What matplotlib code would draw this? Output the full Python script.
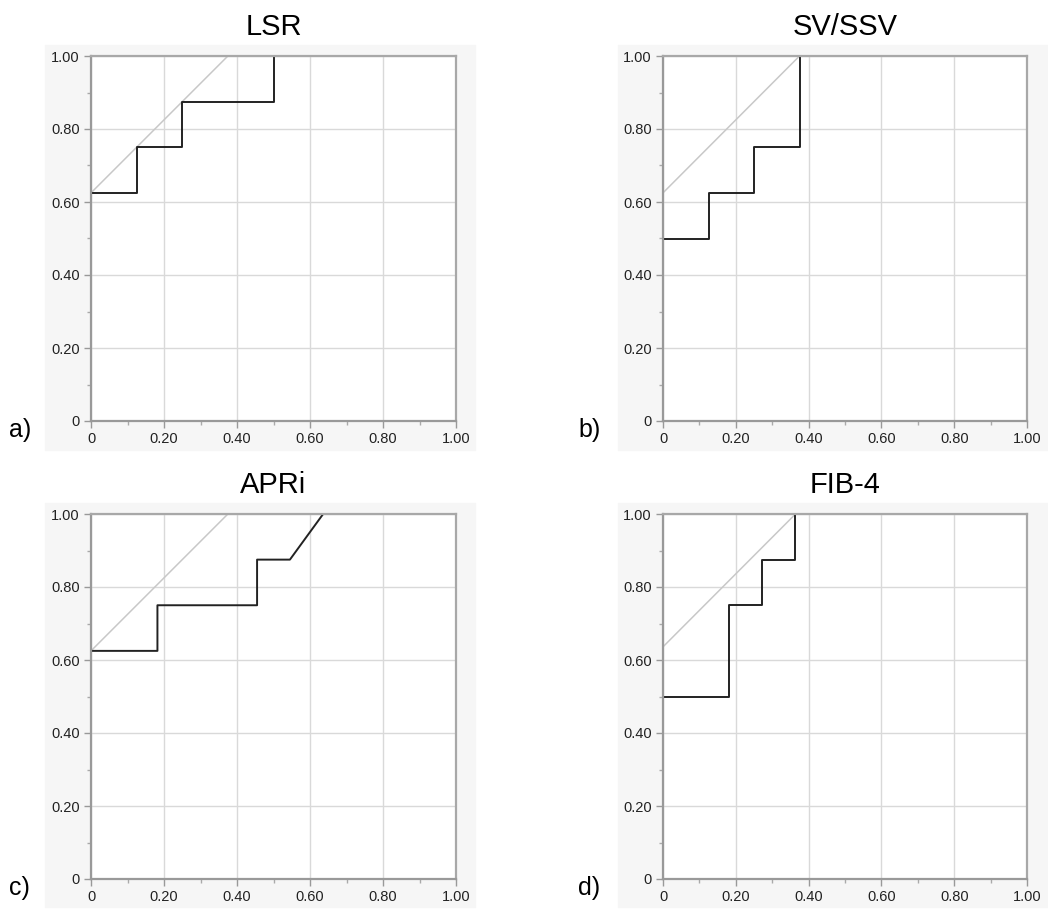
import matplotlib
matplotlib.use("Agg")
import matplotlib.pyplot as plt
from matplotlib.patches import Rectangle
from matplotlib.ticker import MultipleLocator

plt.rcParams["font.family"] = ["Liberation Sans", "DejaVu Sans"]

titles = ["LSR", "SV/SSV", "APRi", "FIB-4"]
letters = ["a)", "b)", "c)", "d)"]

# ROC curves (1 - specificity, sensitivity)
lsr_x = [0, 0, 0.125, 0.125, 0.25, 0.25, 0.5, 0.5, 1.0]
lsr_y = [0, 0.625, 0.625, 0.75, 0.75, 0.875, 0.875, 1.0, 1.0]
sv_x = [0, 0, 0.125, 0.125, 0.25, 0.25, 0.375, 0.375, 1.0]
sv_y = [0, 0.5, 0.5, 0.625, 0.625, 0.75, 0.75, 1.0, 1.0]
apri_x = [0, 0, 0.182, 0.182, 0.455, 0.455, 0.545, 0.636, 1.0]
apri_y = [0, 0.625, 0.625, 0.75, 0.75, 0.875, 0.875, 1.0, 1.0]
fib_x = [0, 0, 0.182, 0.182, 0.273, 0.273, 0.364, 0.364, 1.0]
fib_y = [0, 0.5, 0.5, 0.75, 0.75, 0.875, 0.875, 1.0, 1.0]

# tangent (slope 1) lines
tan_x = [[0, 0.375], [0, 0.375], [0, 0.375], [0, 0.364]]
tan_y = [[0.625, 1.0], [0.625, 1.0], [0.625, 1.0], [0.636, 1.0]]

curves = [(lsr_x, lsr_y), (sv_x, sv_y), (apri_x, apri_y), (fib_x, fib_y)]

W, H = 1048, 909
fig = plt.figure(figsize=(W / 100, H / 100), dpi=100)

# axes boxes in pixels: left, top, right, bottom
boxes = [(91, 56, 456, 421), (663, 56, 1027, 421),
         (91, 514, 456, 879), (663, 514, 1027, 879)]
# grey panel backgrounds in pixels
bgs = [(45, 45, 475, 450), (618, 45, 1048, 450),
       (45, 503, 475, 907), (618, 503, 1048, 907)]
letter_pos = [(9, 430), (578, 430), (9, 888), (578, 888)]

tick_vals = [0, 0.2, 0.4, 0.6, 0.8, 1.0]
tick_labels = ["0", "0.20", "0.40", "0.60", "0.80", "1.00"]

for i in range(4):
    l, t, r, b = bgs[i]
    fig.patches.append(Rectangle((l / W, 1 - b / H), (r - l) / W, (b - t) / H,
                                 transform=fig.transFigure, color="#f6f6f6",
                                 zorder=-10))
    l, t, r, b = boxes[i]
    ax = fig.add_axes([l / W, 1 - b / H, (r - l) / W, (b - t) / H])
    ax.set_facecolor("white")
    ax.set_xlim(0, 1)
    ax.set_ylim(0, 1)
    ax.set_xticks(tick_vals)
    ax.set_xticklabels(tick_labels)
    ax.set_yticks(tick_vals)
    ax.set_yticklabels(tick_labels)
    ax.xaxis.set_minor_locator(MultipleLocator(0.1))
    ax.yaxis.set_minor_locator(MultipleLocator(0.1))
    ax.tick_params(which="major", length=5, width=1, color="#999999",
                   labelsize=10.5, labelcolor="#222222", pad=3)
    ax.tick_params(which="minor", length=3, width=1, color="#aaaaaa")
    ax.grid(True, which="major", color="#d9d9d9", lw=1)
    ax.set_axisbelow(True)
    for s in ax.spines.values():
        s.set_color("#a8a8a8")
        s.set_linewidth(1.6)
        s.set_zorder(4)
    ax.spines["left"].set_color("#999999")
    ax.spines["bottom"].set_color("#999999")

    ax.plot(tan_x[i], tan_y[i], color="#c8c8c8", lw=1.1, zorder=2)
    cx, cy = curves[i]
    ax.plot(cx, cy, color="#222222", lw=1.4, zorder=3)
    ax.set_title(titles[i], fontsize=21, pad=15)

    fig.text(letter_pos[i][0] / W, 1 - letter_pos[i][1] / H, letters[i],
             fontsize=18, va="center", ha="left")

fig.savefig("out.png", dpi=100, facecolor="white")
